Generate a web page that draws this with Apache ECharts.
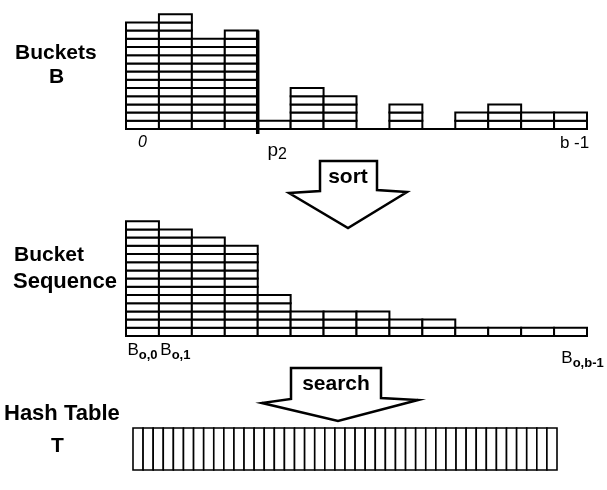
<!DOCTYPE html>
<html>
<head>
<meta charset="utf-8">
<script src="https://cdn.jsdelivr.net/npm/echarts@6/dist/echarts.min.js"></script>
<style>
html,body{margin:0;padding:0;background:#fff;}
#c{width:607px;height:490px;}
</style>
</head>
<body>
<div id="c"></div>
<script>
// ---- data ----
const bucketLabels   = ['0','','','','p2','','','','','','','','','b -1'];
const bucketCounts   = [13,14,11,12,1,5,4,0,3,0,2,3,2,2];
const sequenceLabels = ['o,0','o,1','','','','','','','','','','','','o,b-1'];
const sequenceCounts = [14,13,12,11,5,3,3,3,2,2,1,1,1,1];
const hashTableSlots = 42;
const boundaryBucket = 3;   // thick boundary drawn at the right edge of this bucket (p2)
const unitMax = 15;

const FONT = '"Liberation Sans", Arial, Helvetica, sans-serif';
const chart = echarts.init(document.getElementById('c'), null, {renderer: 'canvas'});

function renderStack(params, api) {
  const i = api.value(0), v = api.value(1);
  const w = api.size([1, 0])[0];
  const h = api.size([0, 1])[1];
  const base = api.coord([i, 0]);
  const children = [];
  for (let k = 0; k < v; k++) {
    const p = api.coord([i, k + 1]);
    children.push({
      type: 'rect',
      shape: {x: base[0] - w / 2, y: p[1], width: w, height: h},
      style: {fill: '#fff', stroke: '#000', lineWidth: 2}
    });
  }
  return {type: 'group', children};
}

function renderBoundary(params, api) {
  const i = api.value(0), v = api.value(1);
  const w = api.size([1, 0])[0];
  const top = api.coord([i, v]);
  const base = api.coord([i, 0]);
  const x = top[0] + w / 2;
  return {type: 'line', shape: {x1: x, y1: top[1], x2: x, y2: base[1] + 5},
          style: {stroke: '#000', lineWidth: 3.5}};
}

function renderSlot(params, api) {
  const i = api.value(0);
  const w = api.size([1, 0])[0];
  const c = api.coord([i, 1]);
  const b = api.coord([i, 0]);
  return {type: 'rect', shape: {x: c[0] - w / 2, y: c[1], width: w, height: b[1] - c[1]},
          style: {fill: '#fff', stroke: '#000', lineWidth: 1.6}};
}

const slotCats = [];
for (let i = 0; i < hashTableSlots; i++) slotCats.push(String(i));

const hiddenY = {type: 'value', show: false, min: 0, max: unitMax};

const option = {
  animation: false,
  backgroundColor: '#fff',
  grid: [
    {left: 126, right: 20, top: 6, height: 123},
    {left: 126, right: 20, top: 213, height: 123},
    {left: 133, right: 50, top: 428, height: 42}
  ],
  xAxis: [
    {gridIndex: 0, type: 'category', data: bucketLabels,
     axisLine: {lineStyle: {color: '#000', width: 2}}, axisTick: {show: false},
     axisLabel: {interval: 0, margin: 6, color: '#000', fontFamily: FONT,
       formatter: v => v === '0' ? '{zero|0}' : v === 'p2' ? '{p|p}{sub|2}' : (v ? '{end|' + v + '}' : ''),
       rich: {
         zero: {fontStyle: 'italic', fontSize: 16, fontFamily: FONT, color: '#000'},
         p: {fontSize: 19, fontFamily: FONT, color: '#000', padding: [4, 0, 0, 6]},
         sub: {fontSize: 16, fontFamily: FONT, color: '#000', padding: [12, 0, 0, 0]},
         end: {fontSize: 17, fontFamily: FONT, color: '#000', padding: [0, 0, 0, 8]}
       }}},
    {gridIndex: 1, type: 'category', data: sequenceLabels,
     axisLine: {lineStyle: {color: '#000', width: 2}}, axisTick: {show: false},
     axisLabel: {interval: 0, margin: 3, color: '#000', fontFamily: FONT,
       formatter: (v, idx) => v ? (idx === sequenceLabels.length - 1 ? '{B2|B}{s2|' + v + '}' : '{B|B}{s|' + v + '}') : '',
       rich: {
         B: {fontSize: 17, fontFamily: FONT, color: '#000'},
         s: {fontSize: 13, fontWeight: 'bold', fontFamily: FONT, color: '#000', padding: [10, 0, 0, 0]},
         B2: {fontSize: 17, fontFamily: FONT, color: '#000', padding: [8, 0, 0, 24]},
         s2: {fontSize: 13, fontWeight: 'bold', fontFamily: FONT, color: '#000', padding: [18, 0, 0, 0]}
       }}},
    {gridIndex: 2, type: 'category', data: slotCats, show: false}
  ],
  yAxis: [
    Object.assign({gridIndex: 0}, hiddenY),
    Object.assign({gridIndex: 1}, hiddenY),
    {gridIndex: 2, type: 'value', show: false, min: 0, max: 1}
  ],
  series: [
    {type: 'custom', xAxisIndex: 0, yAxisIndex: 0, renderItem: renderStack,
     data: bucketCounts.map((v, i) => [i, v]), silent: true, clip: false},
    {type: 'custom', xAxisIndex: 0, yAxisIndex: 0, renderItem: renderBoundary,
     data: [[boundaryBucket, bucketCounts[boundaryBucket]]], silent: true, clip: false, z: 5},
    {type: 'custom', xAxisIndex: 1, yAxisIndex: 1, renderItem: renderStack,
     data: sequenceCounts.map((v, i) => [i, v]), silent: true, clip: false},
    {type: 'custom', xAxisIndex: 2, yAxisIndex: 2, renderItem: renderSlot,
     data: slotCats.map((c, i) => [i, 1]), silent: true, clip: false}
  ],
  graphic: [
    {type: 'text', left: 15, top: 43, style: {text: 'Buckets', font: 'bold 21px ' + FONT, fill: '#000'}},
    {type: 'text', left: 49, top: 67, style: {text: 'B', font: 'bold 21px ' + FONT, fill: '#000'}},
    {type: 'text', left: 14, top: 245, style: {text: 'Bucket', font: 'bold 21px ' + FONT, fill: '#000'}},
    {type: 'text', left: 13, top: 271, style: {text: 'Sequence', font: 'bold 22px ' + FONT, fill: '#000'}},
    {type: 'text', left: 4, top: 403, style: {text: 'Hash Table', font: 'bold 22px ' + FONT, fill: '#000'}},
    {type: 'text', left: 51, top: 436, style: {text: 'T', font: 'bold 21px ' + FONT, fill: '#000'}},
    {type: 'polygon', shape: {points: [[320,161],[377,161],[377,190],[407,192],[348,228],[289,193],[320,191]]},
     style: {fill: '#fff', stroke: '#000', lineWidth: 2.5}},
    {type: 'text', x: 348, y: 177, style: {text: 'sort', font: 'bold 21px ' + FONT, fill: '#000', align: 'center', verticalAlign: 'middle'}},
    {type: 'polygon', shape: {points: [[291,368],[381,368],[381,398],[418,400],[338,421],[262,403],[291,399]]},
     style: {fill: '#fff', stroke: '#000', lineWidth: 2.5}},
    {type: 'text', x: 336, y: 384, style: {text: 'search', font: 'bold 21px ' + FONT, fill: '#000', align: 'center', verticalAlign: 'middle'}}
  ]
};
chart.setOption(option);
</script>
</body>
</html>
